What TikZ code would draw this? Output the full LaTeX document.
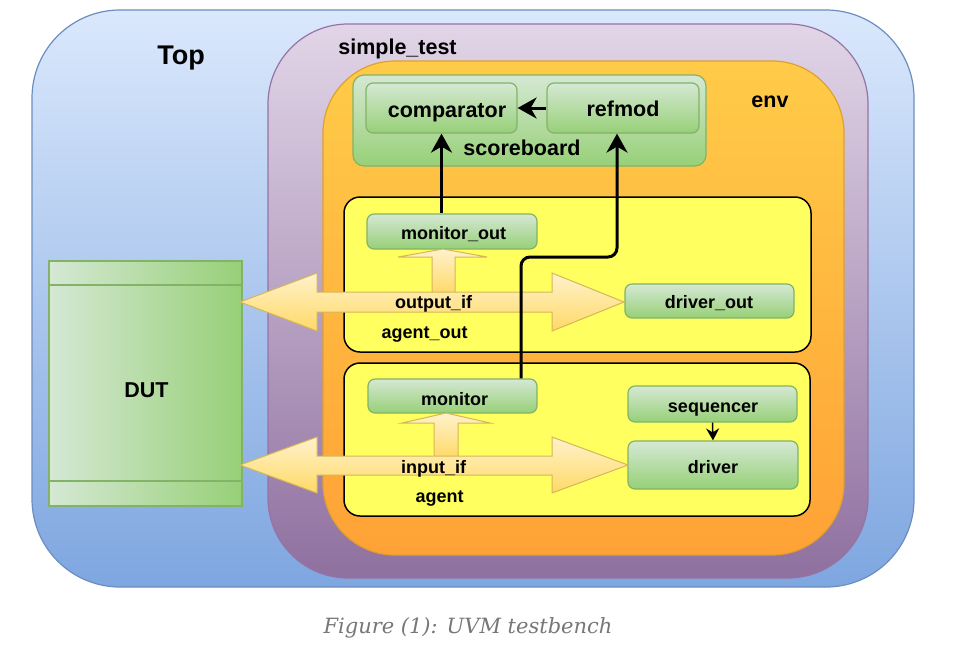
\documentclass[tikz,border=0pt]{standalone}
\usepackage{fontspec}
\setmainfont{Liberation Sans}
\newfontfamily\capfont{DejaVu Serif}
\usetikzlibrary{arrows.meta}
\definecolor{topT}{HTML}{DAE8FC}
\definecolor{topB}{HTML}{7EA6E0}
\definecolor{topS}{HTML}{6C8EBF}
\definecolor{purT}{HTML}{E1D5E7}
\definecolor{purB}{HTML}{8F709F}
\definecolor{purS}{HTML}{9673A6}
\definecolor{oraT}{HTML}{FFCB48}
\definecolor{oraB}{HTML}{FFA236}
\definecolor{oraS}{HTML}{E0A030}
\definecolor{grnT}{HTML}{D5E8D4}
\definecolor{grnB}{HTML}{97D077}
\definecolor{grnS}{HTML}{82B366}
\definecolor{yelF}{HTML}{FFFF60}
\definecolor{arrT}{HTML}{FFF2CC}
\definecolor{arrB}{HTML}{FFD966}
\definecolor{arrS}{HTML}{D6B656}
\definecolor{capgray}{HTML}{777777}
\begin{document}
\begin{tikzpicture}[x=1pt,y=-1pt,
  cont/.style={draw, line width=1.2pt, inner sep=0pt},
  grnbox/.style={draw=grnS, line width=1.2pt, top color=grnT, bottom color=grnB, rounded corners=7pt, inner sep=0pt},
  yelbox/.style={draw=black, line width=1.5pt, fill=yelF, rounded corners=16pt, inner sep=0pt},
  lbl/.style={font=\bfseries\fontsize{18}{20}\selectfont, anchor=base, inner sep=0pt},
  biglbl/.style={font=\bfseries\fontsize{21.5}{24}\selectfont, anchor=base, inner sep=0pt},
  bigarr/.style={draw=arrS, line width=1pt, top color=arrT, bottom color=arrB, line join=miter},
  conn/.style={line width=3pt, -{Stealth[length=19pt,width=21pt,inset=6pt]}},
  thinconn/.style={line width=1.5pt, -{Stealth[length=12pt,width=13pt,inset=4pt]}}
]
\useasboundingbox[fill=white] (0,0) rectangle (955,649);

% containers
\node[cont, draw=topS, top color=topT, bottom color=topB, rounded corners=88pt,
  minimum width=882pt, minimum height=577pt] (top) at (473,298.5) {};
\node[cont, draw=purS, top color=purT, bottom color=purB, rounded corners=80pt,
  minimum width=600pt, minimum height=554pt] (simple) at (568,301) {};
\node[cont, draw=oraS, top color=oraT, bottom color=oraB, rounded corners=72pt,
  minimum width=521pt, minimum height=494pt] (env) at (583.5,308) {};
\node[grnbox, rounded corners=11pt, minimum width=353pt, minimum height=91pt] (sb) at (529.5,120.5) {};
\node[grnbox, minimum width=151pt, minimum height=50pt] (comp) at (441.5,108) {};
\node[grnbox, minimum width=152pt, minimum height=50pt] (ref) at (623,108) {};

% agents
\node[yelbox, minimum width=467pt, minimum height=155pt] (aout) at (577.5,274.5) {};
\node[yelbox, minimum width=466pt, minimum height=153pt] (ain) at (577,439.5) {};

\node[grnbox, minimum width=170pt, minimum height=35pt] (monout) at (452,231.5) {};
\node[grnbox, minimum width=169pt, minimum height=34pt] (drvout) at (709.5,301) {};
\node[grnbox, minimum width=169pt, minimum height=34pt] (mon) at (452.5,396) {};
\node[grnbox, minimum width=169pt, minimum height=36pt] (seq) at (712.5,404) {};
\node[grnbox, minimum width=170pt, minimum height=48pt] (drv) at (713,465) {};

% DUT
\node[draw=grnS, line width=1.2pt, left color=grnT, right color=grnB, inner sep=0pt,
  minimum width=193pt, minimum height=245pt] (dut) at (145.5,383.5) {};
\draw[grnS, line width=1.2pt] (dut.west |- 0,285) -- (dut.east |- 0,285);
\draw[grnS, line width=1.2pt] (dut.west |- 0,481) -- (dut.east |- 0,481);

% interface arrows
\draw[bigarr] (432,294) -- (432,257) -- (398,257) -- (443,249) -- (487,257) -- (455,257) -- (455,294);
\draw[bigarr] (240,302) -- (317,273) -- (317,292) -- (552,292) -- (552,273) -- (624,302)
  -- (552,331) -- (552,312) -- (317,312) -- (317,331) -- cycle;
\draw[bigarr] (434,458) -- (434,423) -- (402,423) -- (446,413) -- (490,423) -- (458,423) -- (458,458);
\draw[bigarr] (240,465) -- (317,437) -- (317,456) -- (552,456) -- (552,437) -- (628,465)
  -- (552,493) -- (552,475) -- (317,475) -- (317,493) -- cycle;

% connectors
\draw[conn] (comp.south |- monout.north) -- (comp.south);
\draw[conn] (ref.west) -- (comp.east);
\coordinate (m1) at (521,257);
\coordinate (m2) at (617,257);
\draw[conn, rounded corners=9pt] (mon.north -| m1) -- (m1) -- (m2) -- (ref.south -| m2);
\draw[thinconn] (seq.south) -- (drv.north);

% labels
\node[font=\bfseries\fontsize{27}{30}\selectfont, anchor=base, inner sep=0pt] (ltop) at (181,64) {Top};
\node[biglbl] (lsimple) at (397.5,54) {simple\_test};
\node[biglbl] (lenv) at (770,107) {env};
\node[biglbl] (lcomp) at (447,117) {comparator};
\node[biglbl] (lref) at (623,116) {refmod};
\node[biglbl] (lsb) at (522,155) {scoreboard};
\node[lbl] (lmonout) at (453.5,239) {monitor\_out};
\node[lbl] (loutif) at (433.5,308) {output\_if};
\node[lbl] (laout) at (424.5,338) {agent\_out};
\node[lbl] (ldrvout) at (709,308) {driver\_out};
\node[lbl] (lmon) at (454.5,405) {monitor};
\node[lbl] (linif) at (433.5,473) {input\_if};
\node[lbl] (lain) at (439.5,502) {agent};
\node[lbl] (lseq) at (713,412) {sequencer};
\node[lbl] (ldrv) at (713,473) {driver};
\node[biglbl] (ldut) at (146.5,397) {DUT};

% caption
\node[font=\capfont\itshape\fontsize{21}{24}\selectfont, text=capgray, anchor=base, inner sep=0pt] (cap) at (468,633) {Figure (1): UVM testbench};
\end{tikzpicture}
\end{document}
